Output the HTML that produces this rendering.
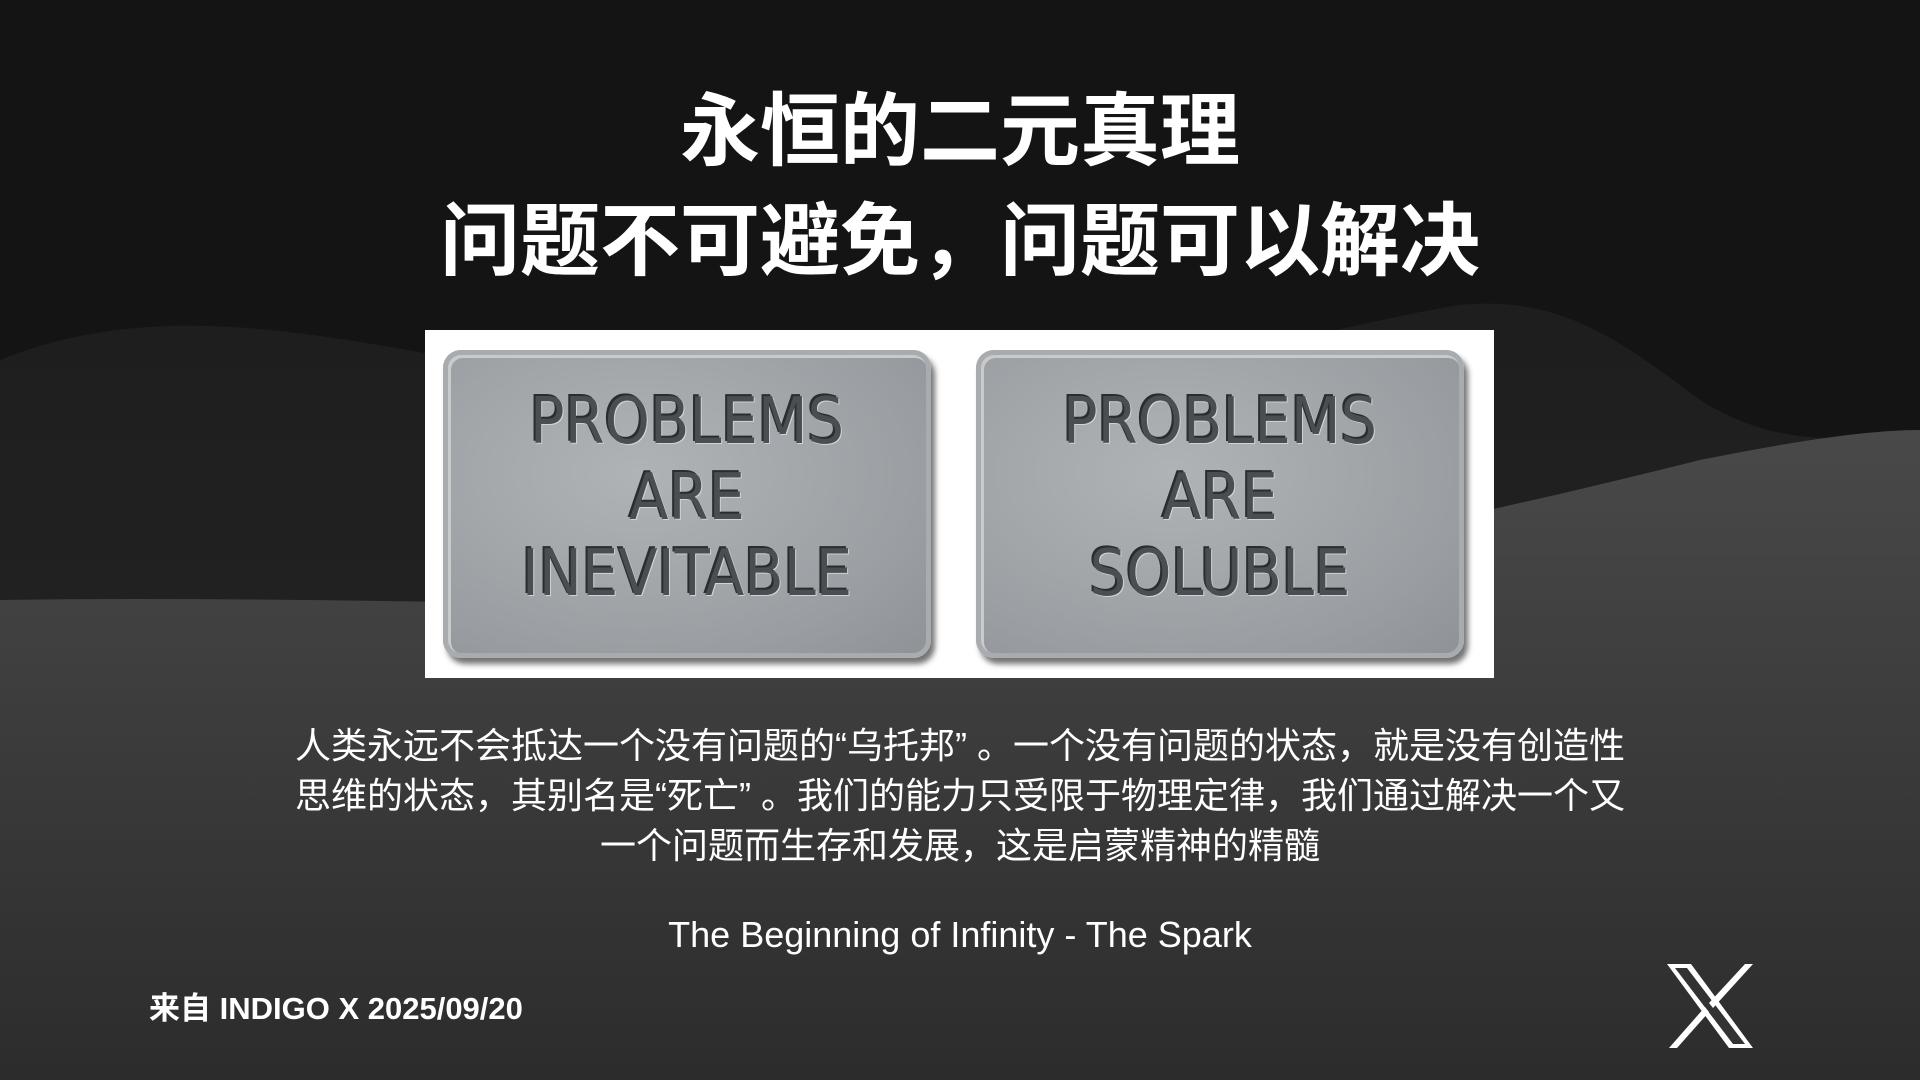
<!DOCTYPE html>
<html><head><meta charset="utf-8"><style>
html,body{margin:0;padding:0;}
body{width:1920px;height:1080px;position:relative;overflow:hidden;background:#141414;font-family:"Liberation Sans","Noto Sans CJK SC",sans-serif;color:#fff;}
.abs{position:absolute;}
.title{left:0;width:1920px;text-align:center;font-weight:bold;font-size:80px;line-height:1;font-family:"Liberation Sans","Noto Sans CJK SC",sans-serif;}
.plaque{position:absolute;top:350px;width:488px;height:308px;border-radius:18px;background:radial-gradient(ellipse at 40% 40%,#b0b3b6,#9a9ea2 70%,#8e9296);box-shadow:4px 6px 6px rgba(0,0,0,.55), inset 0 0 0 5px #a9acaf, inset 2px 2px 0 6px #c8cacc;}
.plaque div{position:absolute;left:0;right:0;top:34px;text-align:center;font-family:"DejaVu Sans Condensed","DejaVu Sans",sans-serif;font-size:64px;line-height:76px;color:#4a4d51;text-shadow:-2px -2px 0 #2a2c2f,1px 1px 0 #d0d2d4;}
.para{left:200px;width:1520px;text-align:center;font-size:36px;line-height:50px;}
</style></head><body>
<svg class="abs" style="left:0;top:0" width="1920" height="1080">
<defs>
<linearGradient id="g1" x1="0" y1="0" x2="0" y2="1"><stop offset="0" stop-color="#1e1e1e"/><stop offset="1" stop-color="#262626"/></linearGradient>
<linearGradient id="g2" x1="0" y1="0" x2="0" y2="1"><stop offset="0" stop-color="#494949"/><stop offset="1" stop-color="#2c2c2c"/></linearGradient>
</defs>
<path d="M0 360 C200 280 400 360 700 400 C1000 430 1300 330 1460 305 C1560 295 1620 340 1700 400 C1780 450 1850 440 1920 430 L1920 1080 L0 1080Z" fill="url(#g1)"/>
<path d="M0 600 C300 595 600 610 900 600 C1200 580 1500 510 1700 460 C1800 440 1870 430 1920 430 L1920 1080 L0 1080Z" fill="url(#g2)"/>
</svg>
<div class="abs title" style="top:92px">永恒的二元真理</div>
<div class="abs title" style="top:202px">问题不可避免，问题可以解决</div>
<div class="abs" style="left:425px;top:330px;width:1069px;height:348px;background:#fff">
</div>
<div class="plaque" style="left:443px"><div>PROBLEMS<br>ARE<br>INEVITABLE</div></div>
<div class="plaque" style="left:976px"><div>PROBLEMS<br>ARE<br>SOLUBLE</div></div>
<div class="abs para" style="top:721px">人类永远不会抵达一个没有问题的“乌托邦” 。一个没有问题的状态，就是没有创造性<br>思维的状态，其别名是“死亡” 。我们的能力只受限于物理定律，我们通过解决一个又<br>一个问题而生存和发展，这是启蒙精神的精髓</div>
<div class="abs" style="left:0;width:1920px;top:914px;text-align:center;font-size:36px">The Beginning of Infinity - The Spark</div>
<div class="abs" style="left:149px;top:983px;font-size:31px;font-weight:bold">来自 INDIGO X 2025/09/20</div>
<svg class="abs" style="left:1665px;top:964px" width="90" height="84" viewBox="0 0 90 84">
<path d="M2 0 H26 L88 84 H64Z" fill="#fff"/>
<path d="M10 4 H22 L80 80 H68Z" fill="#333"/>
<path d="M80 0 H88 L48 44 L44 39Z M4 84 H12 L44 48 L40 43Z" fill="#fff"/>
</svg>
</body></html>
